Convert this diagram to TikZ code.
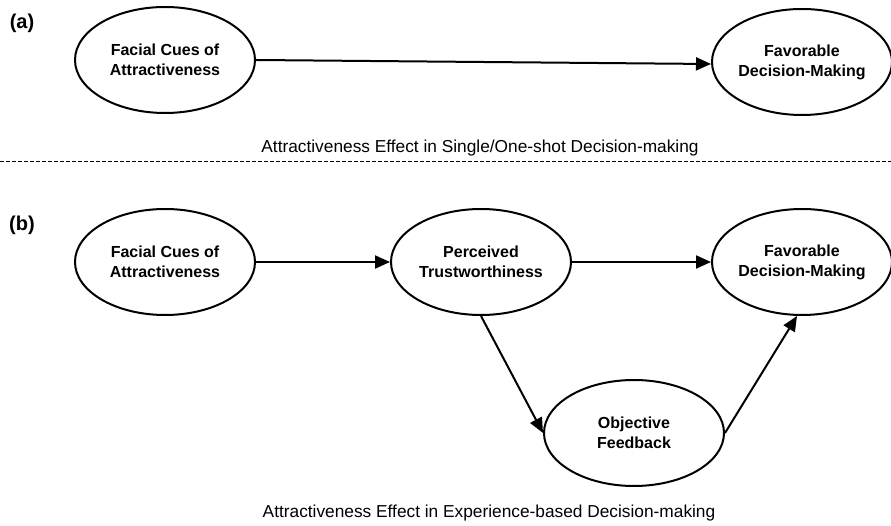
\documentclass[tikz,border=0pt]{standalone}
\usepackage{fontspec}
\setmainfont{Liberation Sans}
\usetikzlibrary{arrows.meta,shapes.geometric}
\tikzset{
  construct/.style={ellipse, draw, line width=2pt, minimum width=180pt, minimum height=106pt,
    inner sep=0pt, align=center, font=\fontsize{16}{20}\selectfont\bfseries},
  path arrow/.style={line width=2pt, -{Triangle[length=15pt,width=13pt]}},
  caption text/.style={font=\fontsize{17.3}{20}\selectfont},
  panel label/.style={font=\fontsize{20}{24}\selectfont\bfseries}
}
\begin{document}
\begin{tikzpicture}[x=1pt, y=1pt]
		%%%%% START %%%%%
		\useasboundingbox (0, 0) rectangle (891, 525);
		
		% panel (a)
		\node[panel label] (la) at (22, 502) {(a)};
		\node[construct] (fa1) at (165, 465) {Facial Cues of\\Attractiveness};
		\node[construct] (fb1) at (802, 463) {Favorable\\Decision-Making};
		\draw[path arrow] (fa1.east) -- ([yshift=-2pt]fb1.west);
		\node[caption text] (cap1) at (480, 377) {Attractiveness Effect in Single/One-shot Decision-making};
		
		% separator
		\coordinate (sl) at (0, 364);
		\coordinate (sr) at (891, 364);
		\draw[line width=0.8pt, dash pattern=on 4pt off 2pt] (sl) -- (sr);
		
		% panel (b)
		\node[panel label] (lb) at (22, 300) {(b)};
		\node[construct] (fa2) at (165, 263) {Facial Cues of\\Attractiveness};
		\node[construct] (pt2) at (481, 263) {Perceived\\Trustworthiness};
		\node[construct] (fb2) at (802, 263) {Favorable\\Decision-Making};
		\node[construct] (of2) at (634, 92) {Objective\\Feedback};
		\draw[path arrow] (fa2) -- (pt2);
		\draw[path arrow] (pt2) -- (fb2);
		\draw[path arrow] (pt2.south) -- (of2.west);
		\draw[path arrow] (of2.east) -- ([xshift=-5pt]fb2.south);
		\node[caption text] (cap2) at (489, 12) {Attractiveness Effect in Experience-based Decision-making};
		
		%%%%% END %%%%%
	\end{tikzpicture}
\end{document}
